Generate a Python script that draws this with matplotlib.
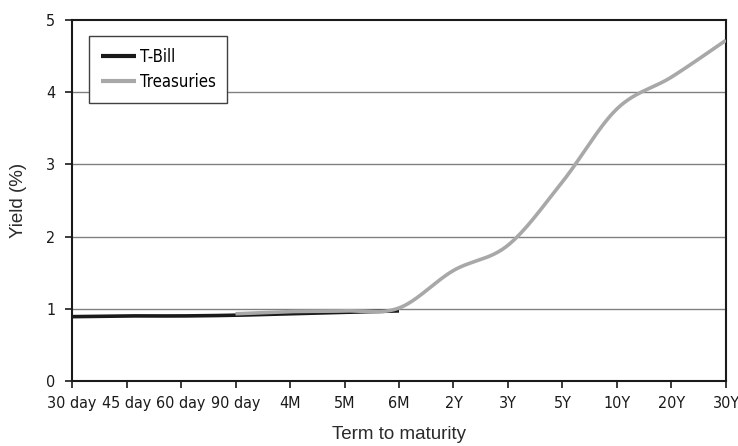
import matplotlib
matplotlib.use("Agg")
import matplotlib.pyplot as plt
import numpy as np

terms = ["30 day", "45 day", "60 day", "90 day", "4M", "5M", "6M",
         "2Y", "3Y", "5Y", "10Y", "20Y", "30Y"]
tbill = [0.89, 0.90, 0.90, 0.91, 0.93, 0.95, 0.97]
treasury_terms = ["90 day", "4M", "5M", "6M", "2Y", "3Y", "5Y", "10Y", "20Y", "30Y"]
treasuries = [0.93, 0.96, 0.97, 1.01, 1.53, 1.88, 2.76, 3.77, 4.21, 4.72]

# condensed face for ticks and legend, plain sans for axis titles
plt.rcParams['font.family'] = ['DejaVu Sans']
plt.rcParams['font.stretch'] = 'condensed'
title_font = ['Liberation Sans', 'DejaVu Sans']


def smooth(xs, ys, n=30):
    # Bezier smoothing like spreadsheet "smoothed line"
    xs = np.asarray(xs, float)
    ys = np.asarray(ys, float)
    px = np.concatenate([[xs[0]], xs, [xs[-1]]])
    py = np.concatenate([[ys[0]], ys, [ys[-1]]])
    out_x, out_y = [], []
    t = np.linspace(0, 1, n)
    for i in range(1, len(px) - 2):
        x0, x1, x2, x3 = px[i - 1], px[i], px[i + 1], px[i + 2]
        y0, y1, y2, y3 = py[i - 1], py[i], py[i + 1], py[i + 2]
        c1x, c1y = x1 + (x2 - x0) / 6, y1 + (y2 - y0) / 6
        c2x, c2y = x2 - (x3 - x1) / 6, y2 - (y3 - y1) / 6
        bx = (1 - t) ** 3 * x1 + 3 * (1 - t) ** 2 * t * c1x + 3 * (1 - t) * t ** 2 * c2x + t ** 3 * x2
        by = (1 - t) ** 3 * y1 + 3 * (1 - t) ** 2 * t * c1y + 3 * (1 - t) * t ** 2 * c2y + t ** 3 * y2
        out_x.extend(bx)
        out_y.extend(by)
    return out_x, out_y


fig = plt.figure(figsize=(7.38, 4.46), dpi=100)
ax = fig.add_axes([0.0976, 0.146, 0.8861, 0.809])

x_tb = [terms.index(t) for t in terms[:len(tbill)]]
x_tr = [terms.index(t) for t in treasury_terms]

sx, sy = smooth(x_tb, tbill)
ax.plot(sx, sy, color="#1a1a1a", linewidth=2.6, label="T-Bill", solid_capstyle="butt", zorder=3)
sx, sy = smooth(x_tr, treasuries)
ax.plot(sx, sy, color="#a8a8a8", linewidth=2.6, label="Treasuries", solid_capstyle="butt", zorder=4)

ax.set_xlim(0, len(terms) - 1)
ax.set_ylim(0, 5)
ax.set_xticks(range(len(terms)))
ax.set_xticklabels(terms)
ax.set_yticks(range(0, 6))
for y in range(1, 5):
    ax.axhline(y, color="#808080", linewidth=1, zorder=1)

for s in ax.spines.values():
    s.set_color("#1a1a1a")
    s.set_linewidth(1.5)
ax.tick_params(axis="both", colors="#1a1a1a", labelsize=11.5, length=5, width=1.2)
ax.tick_params(axis="x", pad=6)
ax.tick_params(axis="y", pad=7)

ax.set_xlabel("Term to maturity", fontsize=13.5, color="#2a2a2a", labelpad=11,
              family=title_font, fontstretch="normal")
ax.set_ylabel("Yield (%)", fontsize=13.5, color="#2a2a2a", labelpad=14,
              family=title_font, fontstretch="normal")

leg = ax.legend(loc="upper left", bbox_to_anchor=(0.026, 0.956), fontsize=12,
                frameon=True, fancybox=False, framealpha=1, edgecolor="#404040",
                handlelength=2.1, handletextpad=0.25, borderpad=0.7, labelspacing=0.45,
                borderaxespad=0)
leg.get_frame().set_linewidth(1)
for h in leg.get_lines():
    h.set_linewidth(3)

fig.savefig("out.png", dpi=100)
